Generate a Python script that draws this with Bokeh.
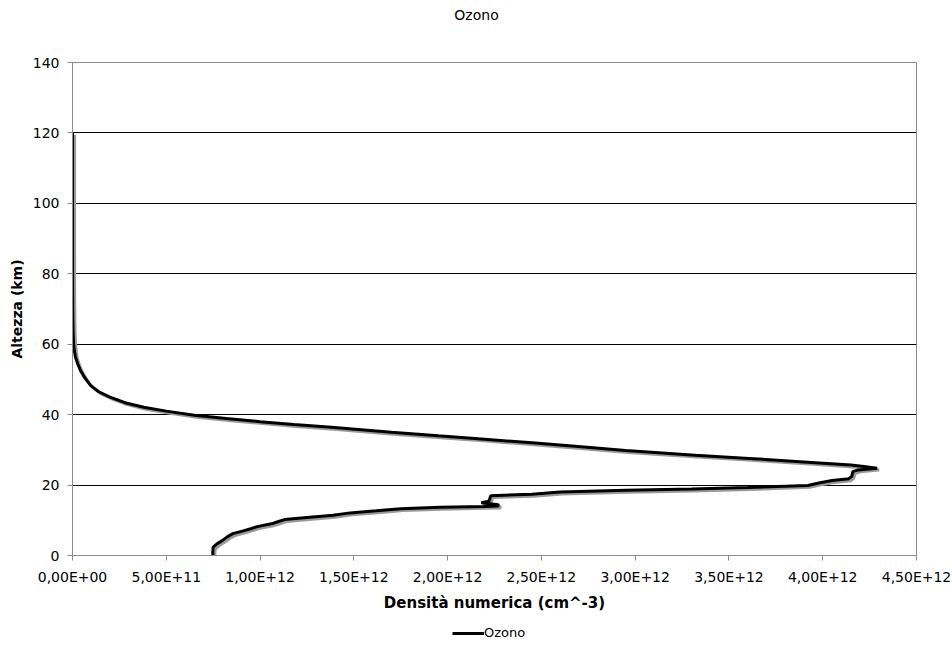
from bokeh.plotting import figure
from bokeh.layouts import column
from bokeh.models import (FixedTicker, Range1d, ColumnDataSource, Legend, LegendItem,
                          Label)
from bokeh.transform import dodge
from bokeh.embed import file_html
from bokeh.resources import INLINE

# Altitude (km) and ozone number density (cm^-3)
altitude_km = [0.0, 1.0, 2.4, 3.3, 4.3, 5.3, 6.2, 7.0, 7.6, 8.2, 9.0, 9.5, 10.2,
               10.8, 11.4, 12.1, 12.7, 13.3, 13.7, 13.95, 14.05, 14.4, 15.0, 15.4,
               17.0, 17.4, 18.0, 18.5, 18.9, 19.3, 19.9, 20.6, 21.3, 21.8, 22.5,
               23.8, 24.3, 24.8, 25.3, 25.7, 26.5, 27.5, 28.5, 29.8, 31.0, 32.0,
               33.1, 34.0, 35.0, 36.4, 37.2, 38.0, 38.9, 39.8, 41.0, 42.1, 43.4,
               45.0, 46.5, 48.3, 50.5, 52.5, 54.5, 56.3, 58.2, 60.1, 63.0, 66.0,
               70.0, 75.0, 80.0, 90.0, 100.0, 110.0, 120.0]
density_cm3 = [7.48e11, 7.48e11, 7.50e11, 7.70e11, 8.00e11, 8.25e11, 8.55e11, 9.10e11,
               9.50e11, 9.85e11, 1.06e12, 1.09e12, 1.13e12, 1.25e12, 1.39e12, 1.48e12,
               1.62e12, 1.75e12, 1.96e12, 2.19e12, 2.27e12, 2.27e12, 2.18e12, 2.22e12,
               2.23e12, 2.45e12, 2.60e12, 2.95e12, 3.30e12, 3.60e12, 3.92e12, 3.98e12,
               4.05e12, 4.14e12, 4.155e12, 4.16e12, 4.19e12, 4.29e12, 4.22e12, 4.15e12,
               3.92e12, 3.63e12, 3.32e12, 2.95e12, 2.68e12, 2.45e12, 2.18e12, 1.95e12,
               1.70e12, 1.38e12, 1.18e12, 1.00e12, 8.2e11, 6.5e11, 5.0e11, 3.8e11,
               2.8e11, 2.0e11, 1.4e11, 9.6e10, 6.5e10, 4.3e10, 2.7e10, 1.6e10, 1.0e10,
               6.0e9, 3.5e9, 2.0e9, 1.1e9, 6.0e8, 3.0e8, 1.0e8, 4.0e7, 2.0e7, 1.0e7]

x_ticks = [0.0, 5e11, 1e12, 1.5e12, 2e12, 2.5e12, 3e12, 3.5e12, 4e12, 4.5e12]
x_tick_labels = ["0,00E+00", "5,00E+11", "1,00E+12", "1,50E+12", "2,00E+12",
                 "2,50E+12", "3,00E+12", "3,50E+12", "4,00E+12", "4,50E+12"]
y_ticks = [0, 20, 40, 60, 80, 100, 120, 140]
grid_ticks = [20, 40, 60, 80, 100, 120]

FONT = "DejaVu Sans"
W = 952


def blank(height):
    f = figure(width=W, height=height, output_backend="svg", toolbar_location=None,
               x_range=Range1d(0, 1), y_range=Range1d(0, 1),
               min_border=0, x_axis_location=None, y_axis_location=None,
               background_fill_color="white", border_fill_color="white")
    f.grid.visible = False
    f.outline_line_color = None
    return f


src = ColumnDataSource(data=dict(dens=density_cm3, alt=altitude_km))

# ---- title strip (frame aligned with the main plot's frame by the column)
tfig = blank(28)
tfig.add_layout(Label(x=0.4787, y=0.5, text="Ozono", text_align="center",
                      text_baseline="middle", text_font=FONT,
                      text_font_size="14px", text_color="black"))

# ---- main plot
p = figure(width=W, height=592, output_backend="svg", toolbar_location=None,
           x_range=Range1d(0, 4.5e12), y_range=Range1d(0, 140),
           min_border_left=72, min_border_right=36, min_border_top=34,
           min_border_bottom=65, background_fill_color="white",
           border_fill_color="white")
p.outline_line_color = "#8c8c8c"
p.outline_line_width = 1

p.xaxis.ticker = FixedTicker(ticks=x_ticks)
p.xaxis.major_label_overrides = {t: l for t, l in zip(x_ticks, x_tick_labels)}
p.yaxis.ticker = FixedTicker(ticks=y_ticks)
for ax in (p.xaxis, p.yaxis):
    ax.axis_line_color = "#8c8c8c"
    ax.major_tick_line_color = "#8c8c8c"
    ax.minor_tick_line_color = None
    ax.major_tick_in = 0
    ax.major_tick_out = 5
    ax.major_label_text_font = FONT
    ax.major_label_text_font_size = "14px"
    ax.major_label_text_color = "black"
    ax.axis_label_text_font = FONT
    ax.axis_label_text_font_style = "bold"
    ax.axis_label_text_color = "black"
p.xaxis.axis_label = "Densità numerica (cm^-3)"
p.yaxis.axis_label = "Altezza (km)"
p.xaxis.axis_label_text_font_size = "15px"
p.yaxis.axis_label_text_font_size = "14px"
p.xaxis.major_label_standoff = 8
p.yaxis.major_label_standoff = 8
p.xaxis.axis_label_standoff = 6
p.yaxis.axis_label_standoff = 5

p.xgrid.grid_line_color = None
p.ygrid.ticker = FixedTicker(ticks=grid_ticks)
p.ygrid.grid_line_color = "black"
p.ygrid.grid_line_width = 1

# shadow then main line
p.line(x=dodge("dens", 1.1e10), y=dodge("alt", -0.55), source=src,
       line_color="#9a9a9a", line_width=3)
main = p.line(x="dens", y="alt", source=src, line_color="black", line_width=3)

# ---- legend strip: the series is drawn here too but falls outside this strip's
# ranges, so only its legend sample shows
lfig = blank(26)
proxy = lfig.line(x="dens", y="alt", source=src, line_color="black", line_width=3)
legend = Legend(items=[LegendItem(label="Ozono", renderers=[proxy])],
                location=(380, 6), orientation="horizontal",
                border_line_color=None, background_fill_alpha=0,
                padding=0, margin=0, spacing=0, label_standoff=0,
                glyph_width=32, glyph_height=14, label_height=14,
                label_text_font=FONT, label_text_font_size="13px",
                label_text_color="black")
lfig.add_layout(legend)

layout = column(tfig, p, lfig, spacing=0)
open("out.html", "w").write(file_html(layout, INLINE))
